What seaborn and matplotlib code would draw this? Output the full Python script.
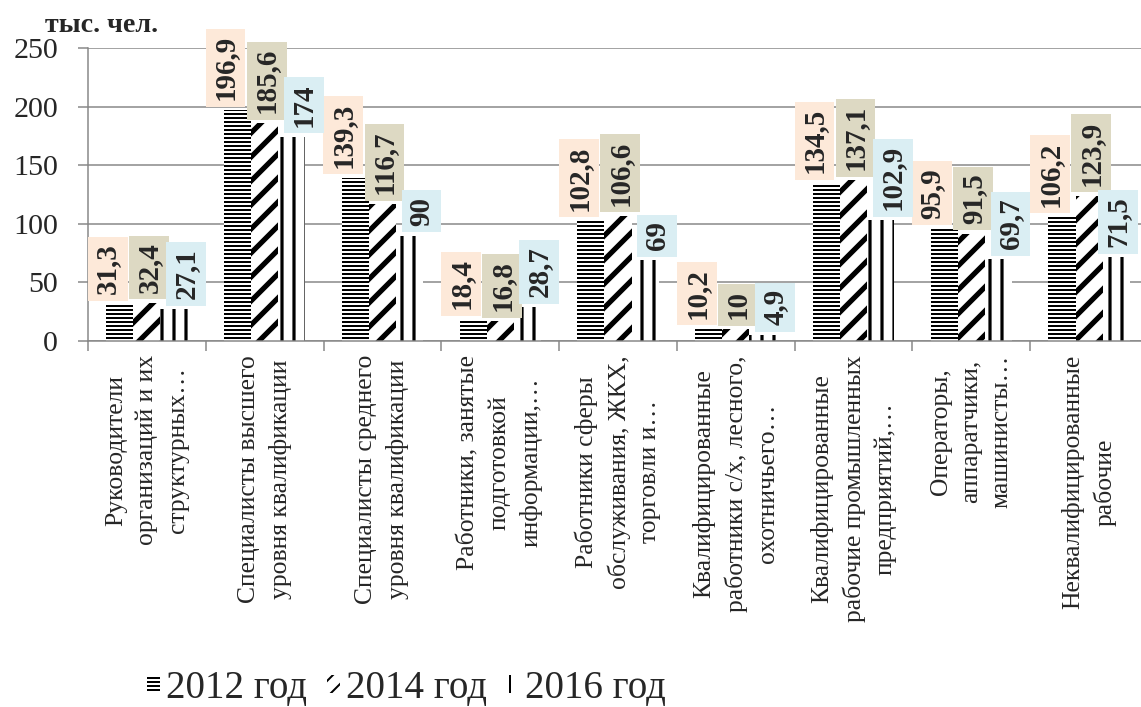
import numpy as np
import pandas as pd
import matplotlib
matplotlib.use("Agg")
import matplotlib.pyplot as plt
from matplotlib.patches import Patch
import seaborn as sns

# ---- data -------------------------------------------------------------
categories = [
    "Руководители\nорганизаций и их\nструктурных…",
    "Специалисты высшего\nуровня квалификации",
    "Специалисты среднего\nуровня квалификации",
    "Работники, занятые\nподготовкой\nинформации,…",
    "Работники сферы\nобслуживания, ЖКХ,\nторговли и…",
    "Квалифицированные\nработники с/х, лесного,\nохотничьего…",
    "Квалифицированные\nрабочие промышленных\nпредприятий,…",
    "Операторы,\nаппаратчики,\nмашинисты…",
    "Неквалифицированные\nрабочие",
]
years = ["2012 год", "2014 год", "2016 год"]
values_2012 = [31.3, 196.9, 139.3, 18.4, 102.8, 10.2, 134.5, 95.9, 106.2]
values_2014 = [32.4, 185.6, 116.7, 16.8, 106.6, 10, 137.1, 91.5, 123.9]
values_2016 = [27.1, 174, 90, 28.7, 69, 4.9, 102.9, 69.7, 71.5]
y_ticks = [0, 50, 100, 150, 200, 250]
unit_label = "тыс. чел."

# ---- style ------------------------------------------------------------
DPI = 144
W, H = 1141, 707
GRID = "#868686"
hatches = ["------", "//", "||"]
legend_hatches = ["------", "///", "||"]
hatch_widths = [1.0, 2.6, 1.6]
label_colors = ["#FDE9D9", "#DDD9C3", "#DAEEF3"]
label_dx = [-6, 1, 6]  # points
label_dy = 5            # points

sns.set_style("white")
plt.rcParams["font.family"] = ["Liberation Serif", "DejaVu Serif"]

series = [values_2012, values_2014, values_2016]
df = pd.DataFrame({
    "category": categories * len(years),
    "year": np.repeat(years, len(categories)),
    "value": values_2012 + values_2014 + values_2016,
})

fig = plt.figure(figsize=(W / DPI, H / DPI), dpi=DPI)
ax = fig.add_axes([88 / W, 1 - 341 / H, 1060 / W, 293 / H])

sns.barplot(
    data=df, x="category", y="value", hue="year",
    order=categories, hue_order=years,
    palette=["white"] * 3, saturation=1, width=0.69,
    edgecolor="black", linewidth=0, errorbar=None,
    legend=False, ax=ax,
)


def style_hatch(patch, hatch, lw):
    patch.set_hatch(hatch)
    patch.set_edgecolor("black")
    patch.set_linewidth(0)
    if hasattr(patch, "set_hatch_linewidth"):
        patch.set_hatch_linewidth(lw)


for cont, hatch, lw in zip(ax.containers, hatches, hatch_widths):
    for bar in cont:
        style_hatch(bar, hatch, lw)

# value labels in coloured boxes above each bar
annotations = []
for cont, vals, color, dx in zip(ax.containers, series, label_colors, label_dx):
    for bar, v in zip(cont, vals):
        x = bar.get_x() + bar.get_width() / 2
        ann = ax.annotate(
            f"{v:g}".replace(".", ","),
            xy=(x, bar.get_height()), xytext=(dx, label_dy),
            textcoords="offset points", rotation=90,
            ha="center", va="bottom", fontsize=14.5, fontweight="bold",
            bbox=dict(boxstyle="square,pad=0.22", fc=color, ec="none"),
            zorder=5, annotation_clip=False,
        )
        annotations.append((ann, dx))

# axes
ax.set_ylim(0, 250)
ax.set_xlim(-0.5, len(categories) - 0.5)
ax.set_yticks(y_ticks)
ax.set_yticklabels([str(t) for t in y_ticks])
ax.yaxis.grid(True, color=GRID, linewidth=0.75)
ax.set_axisbelow(True)
ax.set_xlabel("")
ax.set_ylabel("")

ax.set_xticks(range(len(categories)))
ax.set_xticklabels(categories, rotation=90, ha="center", va="top",
                   multialignment="center", fontsize=12.8, linespacing=1.5)
ax.set_xticks(np.arange(-0.5, len(categories), 1), minor=True)
ax.tick_params(axis="x", which="major", bottom=True, length=0, pad=7)
ax.tick_params(axis="x", which="minor", bottom=True, length=5,
               width=0.75, color=GRID, direction="out")
ax.tick_params(axis="y", left=True, length=5, width=0.75, color=GRID,
               direction="out", labelsize=15, pad=10)

for side in ["top", "right"]:
    ax.spines[side].set_visible(False)
for side in ["left", "bottom"]:
    ax.spines[side].set_color(GRID)
    ax.spines[side].set_linewidth(0.75)

fig.text(45 / W, 1 - 32 / H, unit_label, fontsize=14, fontweight="bold",
         va="baseline", ha="left")

handles = []
for hatch, lw in zip(legend_hatches, hatch_widths):
    p = Patch(facecolor="white", edgecolor="black", linewidth=0, hatch=hatch)
    if hasattr(p, "set_hatch_linewidth"):
        p.set_hatch_linewidth(lw)
    handles.append(p)
fig.legend(handles, years, loc="lower left", bbox_to_anchor=(147 / W, 0.0),
           ncol=3, frameon=False, fontsize=19.5, handlelength=0.34,
           handleheight=0.34, handletextpad=0.15, columnspacing=0.5,
           borderpad=0.0, borderaxespad=0.0)

# keep label boxes inside the figure on the right
fig.canvas.draw()
renderer = fig.canvas.get_renderer()
for ann, dx in annotations:
    box = ann.get_bbox_patch().get_window_extent(renderer)
    overflow = box.x1 - (fig.bbox.width - 3)
    if overflow > 0:
        ann.xyann = (dx - overflow * 72 / DPI, label_dy)

fig.savefig("out.png", dpi=DPI)
